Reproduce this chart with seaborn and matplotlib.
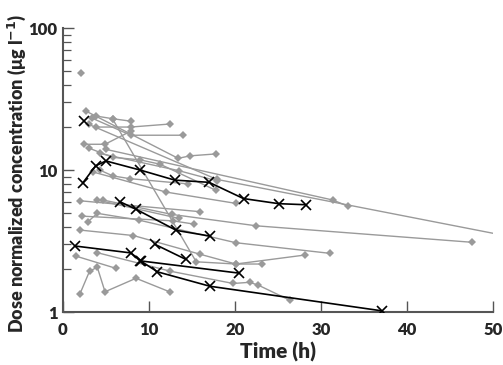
import numpy as np
import pandas as pd
import matplotlib
matplotlib.use("Agg")
import matplotlib.pyplot as plt
import seaborn as sns
from matplotlib.ticker import LogLocator, FixedLocator, NullFormatter

# ---------------- data ----------------
gray_t = [
    [2.1],
    [3.8, 7.9, 12.4],
    [3.4, 7.9, 14.0],
    [3.9, 5.8, 7.9],
    [2.4, 4.9, 7.9],
    [2.7, 13.4, 14.8, 17.8],
    [3.0, 17.9, 52.0],
    [5.0, 31.4, 33.1],
    [3.0, 5.8, 9.0, 11.3, 17.8],
    [4.3, 13.5, 17.9],
    [4.3, 5.8, 7.8, 14.5],
    [3.5, 12.0, 20.1],
    [2.0, 16.0],
    [4.7, 12.7, 22.5, 47.6],
    [4.0, 13.5],
    [2.2, 12.8, 15.3],
    [2.9, 4.0, 8.8, 20.1, 31.1],
    [5.8, 15.5, 20.1, 23.1],
    [2.0, 8.2, 16.0, 20.1, 28.1],
    [1.5, 6.2],
    [4.0, 12.5, 19.8, 21.7, 22.7, 26.4],
    [2.0, 3.1, 4.0, 4.9, 8.5, 12.4],
]
gray_c = [
    [48.0],
    [20.1, 20.1, 21.1],
    [23.2, 17.6, 17.6],
    [24.0, 23.0, 22.1],
    [15.2, 15.2, 18.8],
    [26.0, 12.1, 12.6, 13.0],
    [21.0, 8.6, 3.4],
    [14.0, 6.15, 5.58],
    [14.3, 12.3, 11.8, 11.0, 7.2],
    [13.1, 9.9, 8.4],
    [10.0, 9.1, 8.7, 8.0],
    [9.7, 7.0, 5.83],
    [6.08, 5.09],
    [6.15, 4.87, 4.05, 3.10],
    [6.15, 4.57],
    [4.74, 4.39, 4.16],
    [4.32, 4.96, 4.45, 3.08, 2.59],
    [22.8, 2.26, 2.18, 2.18],
    [3.78, 3.46, 2.55, 2.18, 2.52],
    [2.48, 2.03],
    [2.62, 1.94, 1.59, 1.62, 1.55, 1.21],
    [1.35, 1.94, 2.07, 1.39, 1.73, 1.39],
]
black_t = [
    [2.5],
    [2.3, 3.8, 5.0, 9.0, 13.0, 17.0, 21.0, 25.1, 28.3],
    [6.6, 8.5, 13.2, 17.1],
    [10.7, 14.3],
    [1.4, 7.9, 9.1, 20.5],
    [9.0, 11.0, 17.1, 37.1],
]
black_c = [
    [22.0],
    [8.1, 10.7, 11.6, 10.0, 8.5, 8.2, 6.3, 5.8, 5.7],
    [6.0, 5.3, 3.76, 3.43],
    [3.0, 2.35],
    [2.92, 2.61, 2.29, 1.88],
    [2.30, 1.92, 1.52, 1.02],
]
x_ticks = [0, 10, 20, 30, 40, 50]
y_ticks = [1, 10, 100]
y_tick_labels = ["1", "10", "100"]

# ---------------- plotting ----------------
sns.set_theme(style="white")
plt.rcParams["font.family"] = ["Lato", "DejaVu Sans"]
plt.rcParams["font.weight"] = "heavy"

fig = plt.figure(figsize=(5.03, 3.65), dpi=100)
ax = fig.add_axes([0.125, 0.145, 0.855, 0.778])

rows = []
for i, (ts, cs) in enumerate(zip(gray_t, gray_c)):
    for t, c in zip(ts, cs):
        rows.append(dict(sid=f"g{i}", grp="gray", t=t, c=c))
for i, (ts, cs) in enumerate(zip(black_t, black_c)):
    for t, c in zip(ts, cs):
        rows.append(dict(sid=f"b{i}", grp="black", t=t, c=c))
df = pd.DataFrame(rows)

for sid, sub in df[df.grp == "gray"].groupby("sid", sort=False):
    sns.lineplot(data=sub, x="t", y="c", ax=ax, sort=False, estimator=None,
                 color="#9a9a9a", lw=1.0, marker="D", markersize=3.8,
                 markeredgewidth=0, zorder=2)
for sid, sub in df[df.grp == "black"].groupby("sid", sort=False):
    sns.lineplot(data=sub, x="t", y="c", ax=ax, sort=False, estimator=None,
                 color="black", lw=1.2, marker="x", markersize=7,
                 markeredgewidth=1.2, markeredgecolor="black", zorder=3)

ax.set_yscale("log")
ax.set_xlim(0, 50)
ax.set_ylim(1, 100)
ax.xaxis.set_major_locator(FixedLocator(x_ticks))
ax.yaxis.set_major_locator(FixedLocator(y_ticks))
ax.set_yticklabels(y_tick_labels)
ax.yaxis.set_minor_locator(LogLocator(base=10, subs=np.arange(2, 10)))
ax.yaxis.set_minor_formatter(NullFormatter())

for s in ["top", "right"]:
    ax.spines[s].set_visible(False)
for s in ["left", "bottom"]:
    ax.spines[s].set_color("#555555")
    ax.spines[s].set_linewidth(1.5)

ax.tick_params(axis="both", which="major", direction="in", length=8,
               width=1.0, color="#555555", labelsize=12, pad=4)
ax.tick_params(axis="x", which="major", pad=7)
ax.tick_params(axis="y", which="minor", direction="in", length=6,
               width=0.9, color="#555555", left=True)
ax.tick_params(axis="x", which="major", bottom=True)
ax.tick_params(axis="y", which="major", left=True)
for lab in ax.get_xticklabels() + ax.get_yticklabels():
    lab.set_fontweight("heavy")

ax.set_xlabel("Time (h)", fontsize=15, fontweight="heavy")
ax.xaxis.set_label_coords(0.5, -0.105)
ax.set_ylabel("Dose normalized concentration (μg l$^{\\mathbf{-1}}$)",
              fontsize=13, fontweight="heavy")
ax.yaxis.set_label_coords(-0.082, 0.487)
ax.grid(False)

fig.savefig("out.png", dpi=100)
